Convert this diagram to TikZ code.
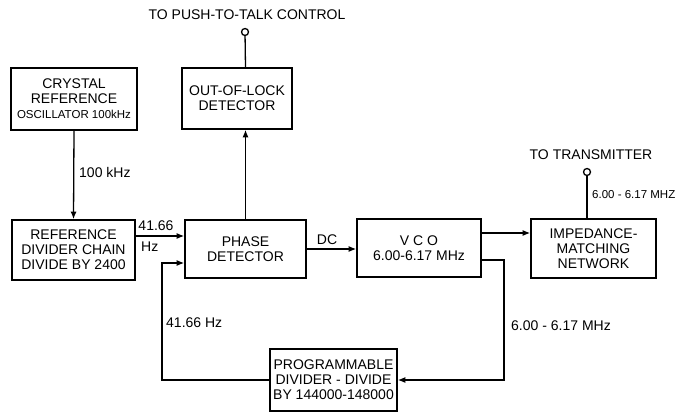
\documentclass[tikz,border=0pt]{standalone}
\usepackage{fontspec}
\setmainfont{Liberation Sans}
\usetikzlibrary{arrows.meta, positioning, calc}

\begin{document}
\begin{tikzpicture}[x=1pt, y=-1pt,
  every node/.style={font=\fontsize{14}{15}\selectfont},
  Blk/.style={draw, line width=1.6pt, align=center, inner sep=2pt},
  Term/.style={circle, draw, fill=white, line width=1.3pt, inner sep=0pt, minimum size=7pt},
  Lbl/.style={inner sep=1pt},
  wire/.style={line width=1.3pt},
  sig/.style={wire, -{Latex[length=7.5pt,width=6pt]}}]
  \useasboundingbox (0,0) rectangle (690,414);
  % top row
  \node[Blk, minimum width=126, minimum height=62] (xtal) at (74,99)
    {CRYSTAL\\REFERENCE\\{\fontsize{11.5}{15}\selectfont OSCILLATOR 100kHz}};
  \node[Blk, minimum width=110, minimum height=61] (ool) at (237,98.5)
    {OUT-OF-LOCK\\DETECTOR};
  % middle row
  \node[Blk, minimum width=123, minimum height=60] (ref) at (73.5,250)
    {REFERENCE\\DIVIDER CHAIN\\DIVIDE BY 2400};
  \node[Blk, minimum width=121, minimum height=58] (phase) at (245.5,249)
    {PHASE\\DETECTOR};
  \node[Blk, minimum width=124, minimum height=58] (vco) at (419,248)
    {V C O\\6.00-6.17 MHz};
  \node[Blk, minimum width=125, minimum height=59] (imp) at (593.5,248.5)
    {IMPEDANCE-\\MATCHING\\NETWORK};
  % bottom
  \node[Blk, minimum width=127, minimum height=62] (prog) at (333.5,380)
    {PROGRAMMABLE\\DIVIDER - DIVIDE\\BY 144000-148000};
  % terminals
  \node[Term] (ptt) at (245,32) {};
  \node[Lbl] (pttlbl) at (247,15) {TO PUSH-TO-TALK CONTROL};
  \node[Term] (tx) at (587,172) {};
  \node[Lbl] (txlbl) at (591,155) {TO TRANSMITTER};
  % connectors
  \draw[sig] (xtal.south) -- (ref.north);
  \node[Lbl, anchor=west] (l100k) at (78,172) {100 kHz};
  \draw[sig] ([yshift=14pt]ref.east) -- ([yshift=14pt]ref.east -| phase.west);
  \node[Lbl] (lref1) at (156,226) {41.66};
  \node[Lbl, anchor=west] (lref2) at (140,247) {Hz};
  \draw[sig] (phase.north) -- (phase.north |- ool.south);
  \draw[wire] (phase.north |- ool.north) -- (ptt);
  \draw[sig] (phase.east) -- (phase.east -| vco.west);
  \node[Lbl] (ldc) at (327,240) {DC};
  \draw[sig] ([yshift=15pt]vco.east) -- ([yshift=15pt]vco.east -| imp.west);
  \draw[wire] (tx) -- (tx |- imp.north);
  \node[Lbl, anchor=west, font=\fontsize{11.5}{13}\selectfont] (ltx) at (591,195) {6.00 - 6.17 MHZ};
  % feedback loop
  \coordinate (fbr) at (504,380);
  \coordinate (fbl) at (162,380);
  \draw[sig] ([yshift=-12pt]vco.east) -| (fbr) -- (prog.east);
  \node[Lbl, anchor=west] (lvco) at (510,326) {6.00 - 6.17 MHz};
  \draw[sig] (prog.west) -- (fbl) |- ([yshift=-14pt]phase.west);
  \node[Lbl, anchor=west] (lfb) at (165,323) {41.66 Hz};
\end{tikzpicture}
\end{document}
